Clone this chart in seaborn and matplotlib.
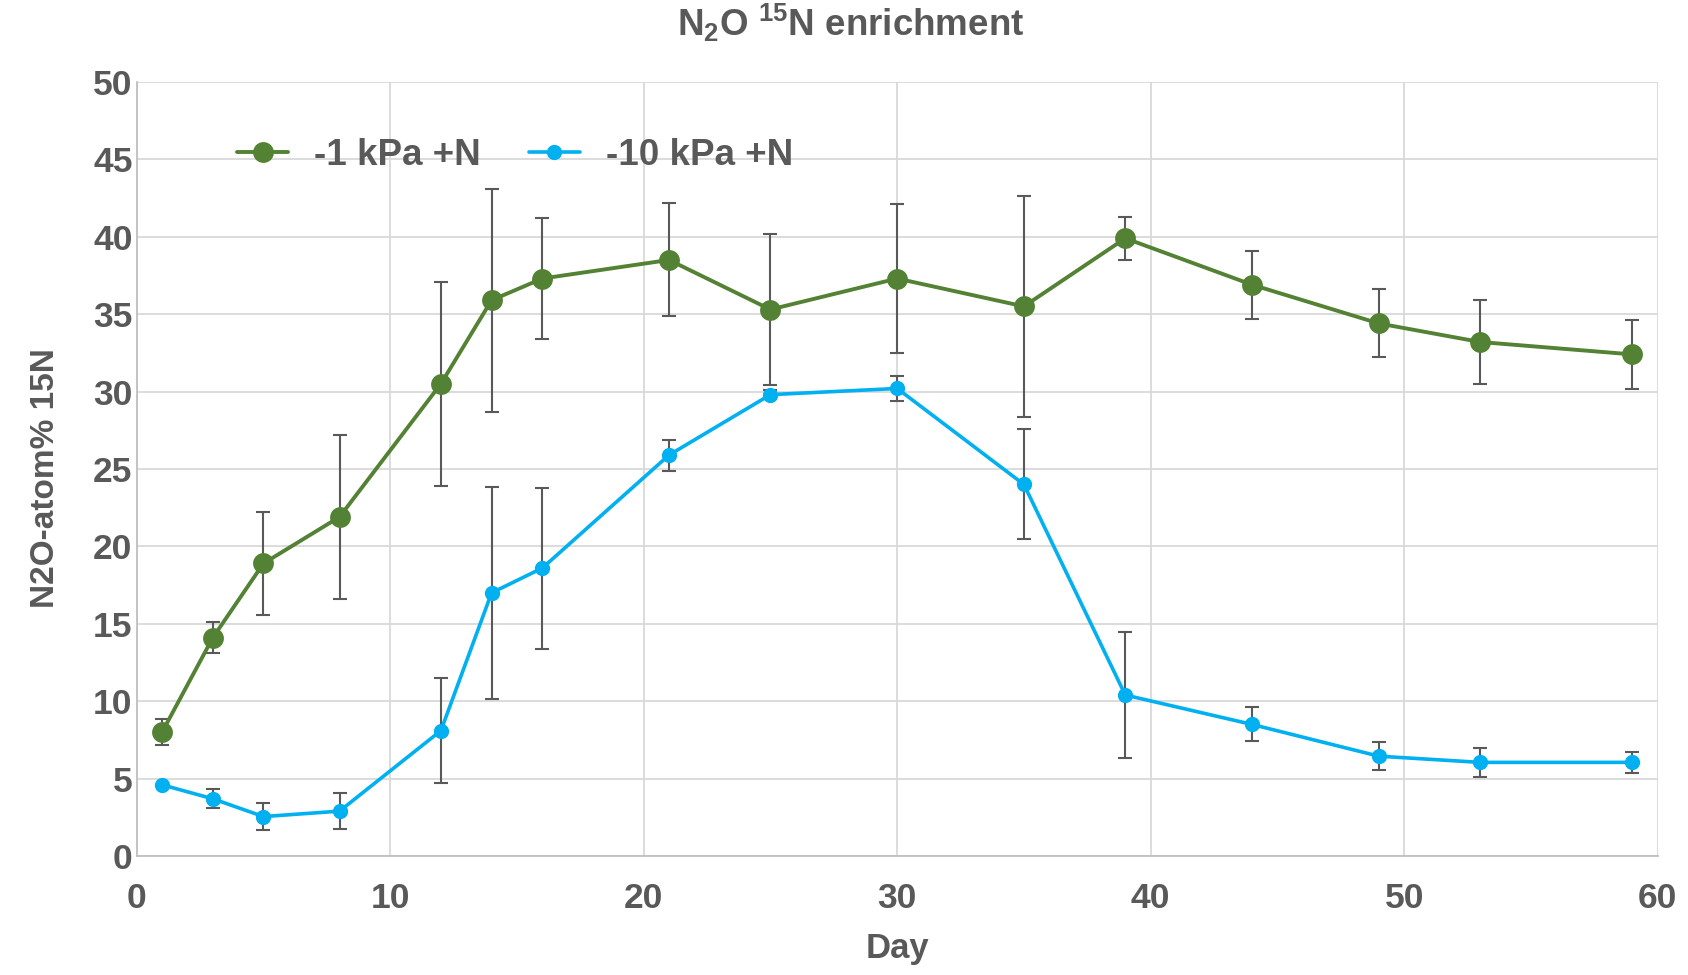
import matplotlib
matplotlib.use("Agg")
import matplotlib.pyplot as plt
import seaborn as sns
import pandas as pd
import numpy as np

days = [1, 3, 5, 8, 12, 14, 16, 21, 25, 30, 35, 39, 44, 49, 53, 59]
g_vals = [8.0, 14.1, 18.9, 21.9, 30.5, 35.9, 37.3, 38.5, 35.3, 37.3, 35.5, 39.9, 36.9, 34.4, 33.2, 32.4]
g_err = [0.85, 1.0, 3.35, 5.3, 6.6, 7.2, 3.9, 3.65, 4.85, 4.8, 7.15, 1.4, 2.2, 2.2, 2.7, 2.25]
b_vals = [4.6, 3.7, 2.55, 2.9, 8.1, 17.0, 18.6, 25.9, 29.8, 30.2, 24.0, 10.4, 8.5, 6.45, 6.05, 6.05]
b_err = [0.0, 0.6, 0.85, 1.15, 3.4, 6.85, 5.2, 1.0, 0.3, 0.8, 3.55, 4.05, 1.1, 0.9, 0.95, 0.7]
series = ["-1 kPa +N", "-10 kPa +N"]
x_ticks = [0, 10, 20, 30, 40, 50, 60]
y_ticks = [0, 5, 10, 15, 20, 25, 30, 35, 40, 45, 50]

GREEN = "#548235"
BLUE = "#00B0F0"
TXT = "#595959"
GRID = "#d9d9d9"

sns.set_theme(style="white")
plt.rcParams['font.family'] = ['Liberation Sans', 'DejaVu Sans']
plt.rcParams['mathtext.fontset'] = 'custom'
plt.rcParams['mathtext.rm'] = 'Liberation Sans:bold'
plt.rcParams['mathtext.bf'] = 'Liberation Sans:bold'
plt.rcParams['mathtext.it'] = 'Liberation Sans:bold'

df = pd.DataFrame({
    "Day": days * 2,
    "val": g_vals + b_vals,
    "err": g_err + b_err,
    "series": [series[0]] * len(days) + [series[1]] * len(days),
})

fig = plt.figure(figsize=(16.88, 9.75), dpi=100)
ax = fig.add_axes([0.081, 0.122, 0.901, 0.794])

# error bars
for s, c in zip(series, [GREEN, BLUE]):
    sub = df[df.series == s]
    ax.errorbar(sub.Day, sub.val, yerr=sub.err, fmt="none", ecolor=TXT,
                elinewidth=1.5, capsize=5, capthick=1.5, zorder=2)

sns.lineplot(data=df[df.series == series[0]], x="Day", y="val", ax=ax,
             color=GREEN, marker="o", markersize=15, markeredgewidth=0,
             linewidth=2.8, label=series[0], zorder=3, errorbar=None)
sns.lineplot(data=df[df.series == series[1]], x="Day", y="val", ax=ax,
             color=BLUE, marker="o", markersize=11, markeredgewidth=0,
             linewidth=2.6, label=series[1], zorder=3, errorbar=None)

ax.set_xlim(0, 60)
ax.set_ylim(0, 50)
ax.set_xticks(x_ticks)
ax.set_yticks(y_ticks)
ax.grid(True, color=GRID, linewidth=1.3)
ax.set_axisbelow(True)
for sp in ["top", "right"]:
    ax.spines[sp].set_visible(False)
for sp in ["left", "bottom"]:
    ax.spines[sp].set_color("#bfbfbf")
    ax.spines[sp].set_linewidth(1.3)
ax.tick_params(axis="both", length=0, labelsize=25.5, labelcolor=TXT)
ax.tick_params(axis="x", pad=19)
ax.tick_params(axis="y", pad=3)
for lab in ax.get_xticklabels() + ax.get_yticklabels():
    lab.set_fontweight("bold")

ax.set_xlabel("Day", fontsize=25, fontweight="bold", color=TXT, labelpad=12)
ax.set_ylabel("N2O-atom% 15N", fontsize=24, fontweight="bold", color=TXT, labelpad=23)
ax.yaxis.label.set_y(0.488)
fig.text(0.504, 0.977, r"N$_2$O $^{15}$N enrichment", fontsize=26.5, fontweight="bold",
         color=TXT, ha="center", va="center")

leg = ax.legend(loc="upper left", bbox_to_anchor=(0.044, 0.97), ncol=2, frameon=False,
                fontsize=26.5, handlelength=1.4, columnspacing=1.3, handletextpad=0.7)
for t in leg.get_texts():
    t.set_color(TXT)
    t.set_fontweight("bold")

fig.savefig("out.png", dpi=100)
